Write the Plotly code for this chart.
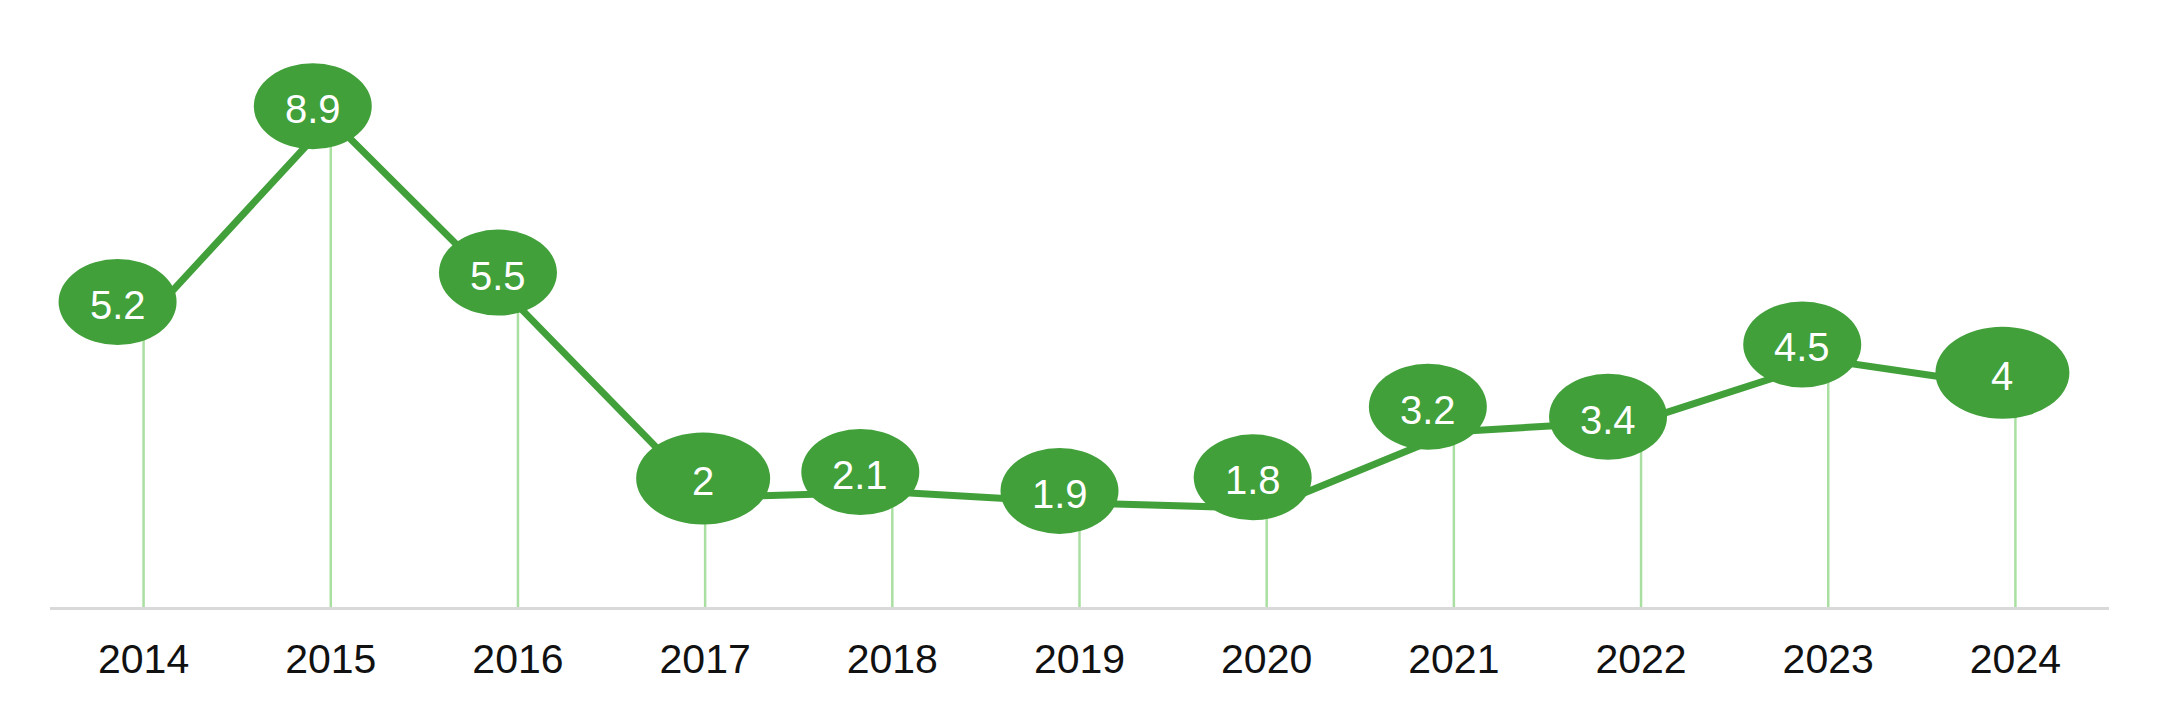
import plotly.graph_objects as go

# данные
years = ["2014", "2015", "2016", "2017", "2018", "2019", "2020", "2021", "2022", "2023", "2024"]
values = [5.2, 8.9, 5.5, 2, 2.1, 1.9, 1.8, 3.2, 3.4, 4.5, 4]
labels = ["5.2", "8.9", "5.5", "2", "2.1", "1.9", "1.8", "3.2", "3.4", "4.5", "4"]

# смещение подписей-эллипсов относительно точки (px, вверх = +)
label_dx = [-26, -18, -20, -2, -32, -20, -14, -26, -33, -26, -13]
label_dy = [20, 13, 33, 19, 20, 12, 31, 25, 4, 16, 15]

GREEN = "#41a03a"
LIGHT_GREEN = "#aadfa2"

fig = go.Figure()

# вертикальные линии от оси до точки
drop_x, drop_y = [], []
for yr, v in zip(years, values):
    drop_x += [yr, yr, None]
    drop_y += [0, v, None]

fig.add_trace(go.Scatter(
    x=drop_x, y=drop_y,
    mode="lines",
    line=dict(color=LIGHT_GREEN, width=2.5),
    hoverinfo="skip",
    showlegend=False,
))

fig.add_trace(go.Scatter(
    x=years, y=values,
    mode="lines",
    line=dict(color=GREEN, width=7),
    showlegend=False,
))

# эллипсы с подписями (на категориальной оси позиция = индекс)
for i, (v, lab, dx, dy) in enumerate(zip(values, labels, label_dx, label_dy)):
    w, h = (118, 86) if "." in lab else (134, 92)
    fig.add_shape(
        type="circle",
        xref="x", yref="y",
        xsizemode="pixel", ysizemode="pixel",
        xanchor=i, yanchor=v,
        x0=dx - w / 2, x1=dx + w / 2,
        y0=dy - h / 2, y1=dy + h / 2,
        fillcolor=GREEN,
        line=dict(width=0),
        layer="above",
    )
    fig.add_annotation(
        x=i, y=v, text=lab,
        xshift=dx, yshift=dy - 3,
        showarrow=False,
        font=dict(family="Liberation Sans, Arial", size=40, color="white"),
        xanchor="center", yanchor="middle",
    )

fig.update_layout(
    width=2160,
    height=710,
    margin=dict(l=50, r=51, t=20, b=103),
    plot_bgcolor="white",
    paper_bgcolor="white",
    font=dict(family="Liberation Sans, Arial", color="#111111"),
    xaxis=dict(
        type="category",
        range=[-0.5, 10.5],
        showgrid=False,
        showline=True,
        linecolor="#d9d9d9",
        linewidth=3,
        ticks="",
        ticklabelstandoff=14,
        tickfont=dict(size=41, color="#111111"),
        zeroline=False,
    ),
    yaxis=dict(
        range=[0, 10.712],
        showgrid=False,
        showticklabels=False,
        showline=False,
        zeroline=False,
        ticks="",
    ),
)

fig.write_html(
    "out.html",
    config={"displayModeBar": False},
    post_script="document.body.style.margin='0';",
)
